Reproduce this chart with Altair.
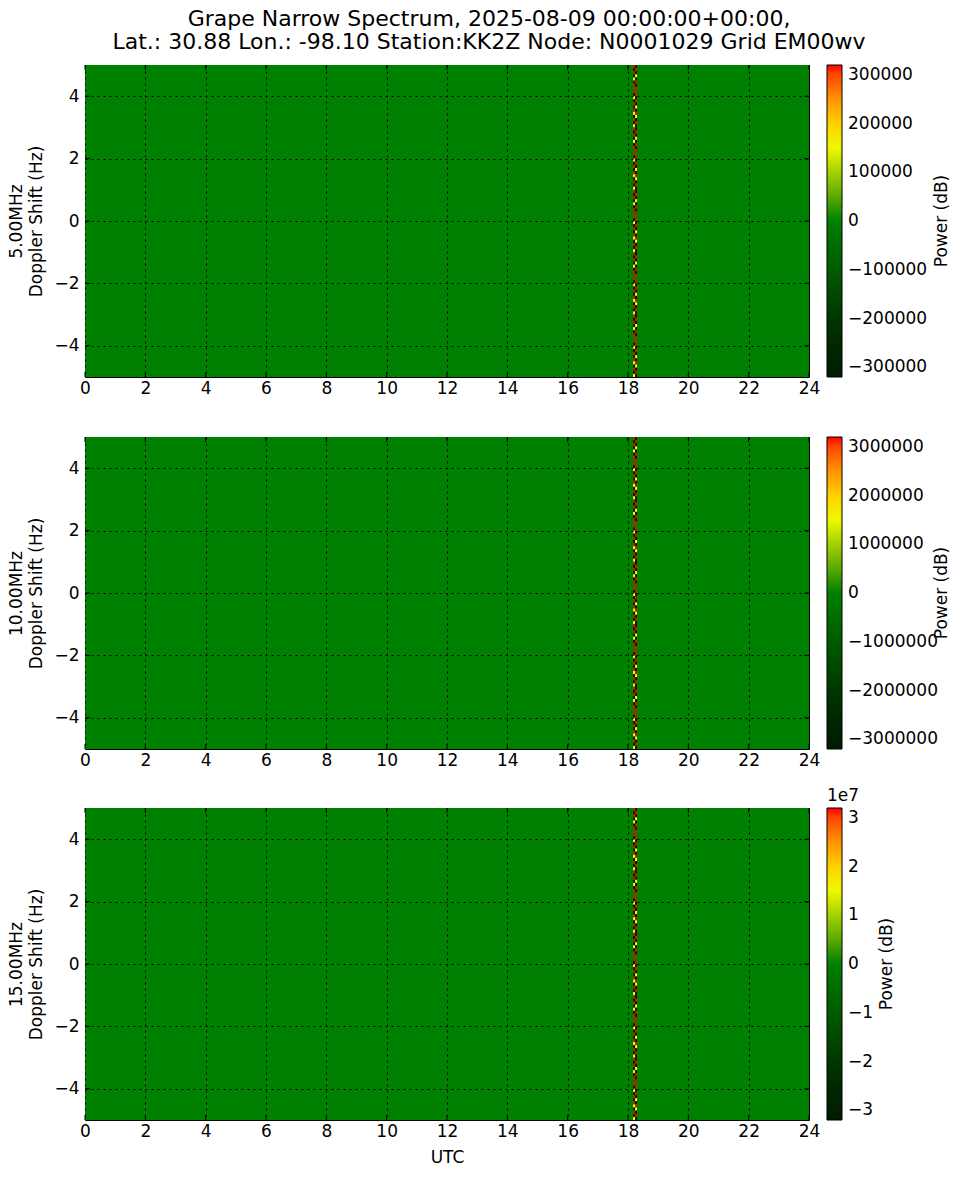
import altair as alt
import pandas as pd

# ---------------- data ----------------
FREQ_LABELS = ["5.00MHz", "10.00MHz", "15.00MHz"]
VMAX = [320000, 3200000, 32000000]
CB_TICKS = [
    [-300000, -200000, -100000, 0, 100000, 200000, 300000],
    [-3000000, -2000000, -1000000, 0, 1000000, 2000000, 3000000],
    [-30000000, -20000000, -10000000, 0, 10000000, 20000000, 30000000],
]
X_TICKS = [0, 2, 4, 6, 8, 10, 12, 14, 16, 18, 20, 22, 24]
Y_TICKS = [-4, -2, 0, 2, 4]

# the narrow stripe near 18.2 UTC: two columns of cells
STRIPE_EDGES = [18.17, 18.235, 18.30]
ROW_HEIGHT = 0.1  # Hz
# cell levels (fraction of VMAX) read from top to bottom, repeating along the stripe
COL_L = [1, -1, 1, -1, 0.5, -1, 1, 0, 1, -1, 0.5, -1, 1, -1, 1, 0.5, -1, 1, -1, 0.5]
COL_R = [-1, 1, -1, 0.5, -1, 1, -1, 1, 0, 1, -1, 1, -1, 0.5, -1, 1, 0.5, -1, 1, -1]

TITLE = ["Grape Narrow Spectrum, 2025-08-09 00:00:00+00:00,",
         "Lat.: 30.88 Lon.: -98.10 Station:KK2Z Node: N0001029 Grid EM00wv"]
CB_TITLE = "Power (dB)"
CB_TITLE_X = [857, 857, 802]  # px from plot left

W, H = 724, 312
FONT = "DejaVu Sans"
FS = 17


def panel_data(vmax):
    rows = [{"x": 0, "x2": 24, "y": -5, "y2": 5, "v": 0}]
    n = int(round(10 / ROW_HEIGHT))
    for i in range(n):
        ytop = 5 - i * ROW_HEIGHT
        for c, col in enumerate([COL_L, COL_R]):
            rows.append({
                "x": STRIPE_EDGES[c], "x2": STRIPE_EDGES[c + 1],
                "y": ytop - ROW_HEIGHT, "y2": ytop,
                "v": col[i % len(col)] * vmax,
            })
    return pd.DataFrame(rows)


xt = pd.DataFrame({"x": X_TICKS})
yt = pd.DataFrame({"y": Y_TICKS})


def make_panel(k):
    vmax = VMAX[k]
    df = panel_data(vmax)
    last = k == 2
    legend_kw = dict(
        title=None, orient="right", offset=18, padding=0,
        direction="vertical", gradientLength=H, gradientThickness=15,
        gradientStrokeColor="black", gradientStrokeWidth=1,
        values=CB_TICKS[k], labelFontSize=FS, labelColor="black",
        labelFont=FONT, labelOffset=6, format="d",
    )
    if last:
        legend_kw["labelExpr"] = "format(datum.value / 1e7, 'd')"
    xaxis = alt.Axis(values=X_TICKS, format="d", title="UTC" if last else None,
                     labelFontSize=FS, titleFontSize=FS, titleFontWeight="normal",
                     labelPadding=3, titlePadding=10, ticks=False, domain=False,
                     grid=True, gridColor="black", gridDash=[2, 4], gridWidth=1,
                     gridOpacity=1, zindex=1, labelColor="black", titleColor="black",
                     labelFont=FONT, titleFont=FONT, labelFlush=False)
    yaxis = alt.Axis(values=Y_TICKS, format="d",
                     title=[FREQ_LABELS[k], "Doppler Shift (Hz)"],
                     labelFontSize=FS, titleFontSize=FS, titleFontWeight="normal",
                     labelPadding=6, titlePadding=8, ticks=False, domain=False,
                     grid=True, gridColor="black", gridDash=[2, 4], gridWidth=1,
                     gridOpacity=1, zindex=1, labelColor="black", titleColor="black",
                     labelFont=FONT, titleFont=FONT, titleLineHeight=20)
    heat = alt.Chart(df).mark_rect(strokeWidth=0).encode(
        x=alt.X("x:Q", scale=alt.Scale(domain=[0, 24], nice=False, zero=False), axis=xaxis),
        x2="x2:Q",
        y=alt.Y("y:Q", scale=alt.Scale(domain=[-5, 5], nice=False, zero=False), axis=yaxis),
        y2="y2:Q",
        color=alt.Color("v:Q", scale=alt.Scale(domain=[-vmax, 0, vmax / 2, vmax],
                                               range=["#000000", "#008000", "#ffff00", "#ff0000"],
                                               clamp=True),
                        legend=alt.Legend(**legend_kw)),
    )
    tb = alt.Chart(xt).mark_rule(color="black", strokeWidth=1).encode(
        x="x:Q", y=alt.value(H - 5), y2=alt.value(H))
    tt = alt.Chart(xt).mark_rule(color="black", strokeWidth=1).encode(
        x="x:Q", y=alt.value(0), y2=alt.value(5))
    tl = alt.Chart(yt).mark_rule(color="black", strokeWidth=1).encode(
        y="y:Q", x=alt.value(0), x2=alt.value(5))
    tr = alt.Chart(yt).mark_rule(color="black", strokeWidth=1).encode(
        y="y:Q", x=alt.value(W - 5), x2=alt.value(W))
    cbt = alt.Chart(pd.DataFrame({"s": [CB_TITLE]})).mark_text(
        align="center", baseline="middle", fontSize=FS, font=FONT, color="black", angle=270
    ).encode(text="s:N", x=alt.value(CB_TITLE_X[k]), y=alt.value(H / 2))
    layers = [heat, tb, tt, tl, tr, cbt]
    if last:
        off = alt.Chart(pd.DataFrame({"s": ["1e7"]})).mark_text(
            align="left", baseline="bottom", fontSize=FS, font=FONT, color="black"
        ).encode(text="s:N", x=alt.value(W + 18), y=alt.value(-3))
        layers.append(off)
    ch = alt.layer(*layers).properties(width=W, height=H)
    if k == 0:
        ch = ch.properties(title=alt.TitleParams(
            text=TITLE, fontSize=22, fontWeight="normal", font=FONT, color="black",
            anchor="middle", frame="group", offset=11, lineHeight=23, dx=42))
    return ch


p1, p2, p3 = [make_panel(k) for k in range(3)]
top = alt.vconcat(p1, p2, spacing=39).resolve_scale(color="independent").resolve_legend(
    color="independent")
chart = alt.vconcat(top, p3, spacing=17).resolve_scale(
    color="independent").resolve_legend(color="independent").properties(
    padding={"left": 7, "top": 7, "right": 5, "bottom": 5}
).configure(font=FONT).configure_view(stroke="black", strokeWidth=1)

chart.save("out.html", embed_options={"renderer": "svg", "actions": False})
